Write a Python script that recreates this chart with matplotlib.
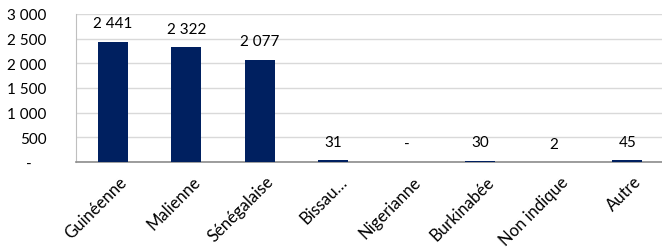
import matplotlib
matplotlib.use("Agg")
import matplotlib.pyplot as plt
from matplotlib.ticker import FuncFormatter
from matplotlib.transforms import ScaledTranslation

categories = ["Guinéenne", "Malienne", "Sénégalaise", "Bissau…", "Nigerianne",
              "Burkinabée", "Non indique", "Autre"]
values = [2441, 2322, 2077, 31, 0, 30, 2, 45]
yticks = [0, 500, 1000, 1500, 2000, 2500, 3000]

plt.rcParams['font.family'] = ['Lato', 'DejaVu Sans']

def fmt(v):
    if v == 0:
        return "-"
    return f"{int(v):,}".replace(",", " ")

def yfmt(v, p):
    if v == 0:
        return "-    "
    return fmt(v)

W, H = 662, 251
fig = plt.figure(figsize=(W / 100, H / 100), dpi=100)
ax = fig.add_axes([76 / W, 1 - 163 / H, (664 - 76) / W, (163 - 15) / H])

x = list(range(len(categories)))
ax.bar(x, values, width=0.41, color="#002060", zorder=3)
ax.set_xlim(-0.5, len(categories) - 0.5)
ax.set_ylim(0, 3000)
ax.set_yticks(yticks)
ax.yaxis.set_major_formatter(FuncFormatter(yfmt))
ax.grid(axis='y', color="#D9D9D9", linewidth=1, zorder=0)
ax.tick_params(axis='y', length=0, pad=21, labelsize=11, labelcolor="black")
ax.tick_params(axis='x', length=0)
for s in ["top", "right"]:
    ax.spines[s].set_visible(False)
ax.spines["left"].set_color("#BFBFBF")
ax.spines["bottom"].set_color("#8C8C8C")
ax.spines["bottom"].set_linewidth(1.2)

for i, v in enumerate(values):
    ax.annotate(fmt(v), (i, v), xytext=(0, 8), textcoords="offset points",
                ha="center", va="bottom", fontsize=11, zorder=4)

ax.set_xticks(x)
ax.set_xticklabels(categories, rotation=45, ha="right", va="top",
                   rotation_mode="anchor", fontsize=12)
for lbl in ax.get_xticklabels():
    lbl.set_transform(lbl.get_transform() + ScaledTranslation(6 / 100, -6 / 100, fig.dpi_scale_trans))

fig.savefig("out.png", dpi=100)
